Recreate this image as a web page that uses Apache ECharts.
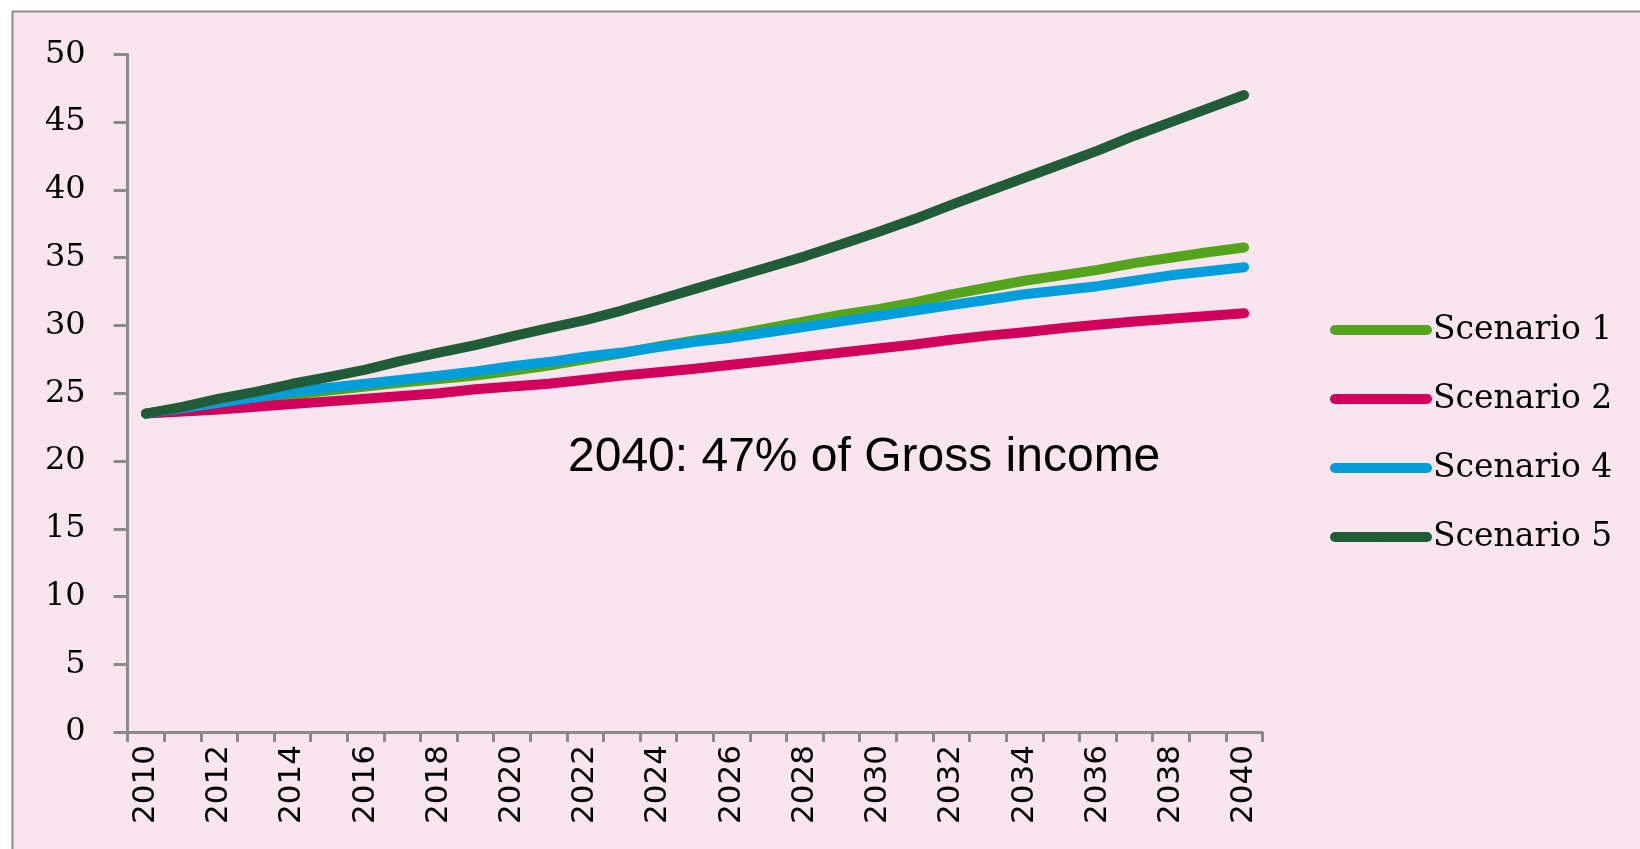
<!DOCTYPE html>
<html><head><meta charset="utf-8">
<script src="https://cdn.jsdelivr.net/npm/echarts@6/dist/echarts.min.js"></script>
<style>html,body{margin:0;padding:0;background:#fff}#c{width:1640px;height:849px}</style>
</head><body><div id="c"></div>
<script>
const years = ['2010','2011','2012','2013','2014','2015','2016','2017','2018','2019','2020','2021','2022','2023','2024','2025','2026','2027','2028','2029','2030','2031','2032','2033','2034','2035','2036','2037','2038','2039','2040'];
const scenario1 = [23.5,23.9,24.25,24.6,24.9,25.2,25.5,25.8,26.05,26.3,26.65,27.05,27.5,27.95,28.45,28.9,29.3,29.8,30.3,30.8,31.2,31.7,32.3,32.8,33.3,33.7,34.1,34.6,35.0,35.4,35.75];
const scenario2 = [23.5,23.65,23.8,24.0,24.2,24.4,24.6,24.8,25.0,25.3,25.5,25.7,26.0,26.3,26.55,26.8,27.1,27.4,27.7,28.0,28.3,28.6,28.95,29.25,29.5,29.8,30.05,30.3,30.5,30.7,30.9];
const scenario4 = [23.5,23.9,24.3,24.7,25.1,25.4,25.7,26.0,26.3,26.6,27.0,27.3,27.7,28.0,28.4,28.8,29.1,29.5,29.9,30.3,30.7,31.1,31.5,31.9,32.3,32.6,32.9,33.3,33.7,34.0,34.3];
const scenario5 = [23.5,24.0,24.6,25.1,25.7,26.2,26.75,27.4,28.0,28.55,29.2,29.8,30.4,31.1,31.9,32.7,33.5,34.3,35.1,36.0,36.9,37.85,38.9,39.9,40.9,41.9,42.9,44.0,45.0,46.0,47.0];
const seriesNames = ['Scenario 1','Scenario 2','Scenario 4','Scenario 5'];
const seriesColors = ['#55A51C','#D1005A','#009EDB','#215C38'];
const annotation = '2040: 47% of Gross income';

const chart = echarts.init(document.getElementById('c'), null, {renderer:'canvas'});
const dataSets = [scenario1, scenario2, scenario4, scenario5];
const axisGray = '#8A8A8A';
chart.setOption({
  animation: false,
  backgroundColor: '#ffffff',
  graphic: [
    {type:'rect', z:-10, silent:true, shape:{x:12.5, y:11.5, width:1700, height:900},
     style:{fill:'#F9E5EE', stroke:'#8C8C8C', lineWidth:2}},
    {type:'text', left:568, top:434, z:10,
     style:{text:annotation, fill:'#000', font:'48px "Liberation Sans", Arial, sans-serif'}}
  ],
  grid: {left:127.6, right:377.6, top:54.4, bottom:116.9, containLabel:false},
  legend: {
    orient:'vertical', left:1325, top:305, itemWidth:92, itemHeight:10, itemGap:29,
    data: seriesNames,
    lineStyle:{width:10, cap:'round'},
    textStyle:{fontFamily:'"DejaVu Serif", serif', fontSize:33, color:'#000', lineHeight:40, padding:[0,0,0,1]}
  },
  xAxis: {
    type:'category', data: years, boundaryGap:true,
    axisLine:{lineStyle:{color:axisGray, width:3}},
    axisTick:{show:true, interval:0, length:10, lineStyle:{color:axisGray, width:3}},
    axisLabel:{interval:1, rotate:90, margin:13, color:'#000', fontFamily:'"DejaVu Sans", sans-serif', fontSize:31}
  },
  yAxis: {
    type:'value', min:0, max:50, interval:5,
    splitLine:{show:false},
    axisLine:{show:true, lineStyle:{color:axisGray, width:3}},
    axisTick:{show:true, length:14, lineStyle:{color:axisGray, width:3}},
    axisLabel:{margin:42, color:'#000', fontFamily:'"DejaVu Serif", serif', fontSize:32}
  },
  series: seriesNames.map((n,i)=>({
    name:n, type:'line', data:dataSets[i], symbol:'none', smooth:false,
    color: seriesColors[i],
    lineStyle:{width:10, color:seriesColors[i], cap:'round', join:'round'}
  }))
});
</script>
</body></html>
